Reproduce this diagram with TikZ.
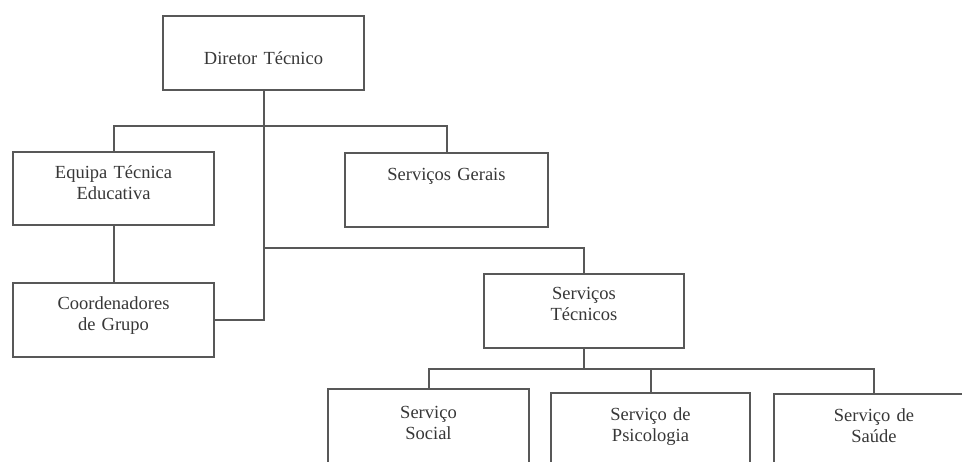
\documentclass[tikz,border=0pt]{standalone}
\usepackage{fontspec}
\setmainfont{Liberation Serif}
\usepackage{tikz}
\usetikzlibrary{positioning}
\definecolor{linha}{RGB}{88,88,88}
\definecolor{texto}{RGB}{55,55,55}

\begin{document}
\begin{tikzpicture}[
  x=1pt, y=-1pt,
  caixa/.style={
    rectangle, draw=linha, line width=2pt,
    text=texto, font=\fontsize{18.5}{21}\selectfont,
    align=center, inner sep=0pt, anchor=north
  },
  medida/.style args={#1/#2/#3}{
    text width=#1, text height=#2, text depth=#3
  },
  lig/.style={draw=linha, line width=2pt}
]

%% ── Moldura (962 x 461) ─────────────────────────────────────────────────
\useasboundingbox (0,0) rectangle (962,461);

%% ── Topo ────────────────────────────────────────────────────────────────
\node[caixa, medida={201pt/48pt/26pt}] (dir) at (263.5,15)
  {Diretor Técnico};

%% ── Segundo nível ───────────────────────────────────────────────────────
\node[caixa, medida={201pt/26pt/47pt}] (equipa) at (113.5,151)
  {Equipa Técnica\\Educativa};
\node[caixa, medida={203pt/27pt/47pt}] (gerais) at (446.5,152)
  {Serviços Gerais};
\node[caixa, medida={201pt/26pt/48pt}] (coord) at (113.5,282)
  {Coordenadores\\de Grupo};
\node[caixa, medida={200pt/25pt/49pt}] (tec) at (584,273)
  {Serviços\\Técnicos};

%% ── Serviços técnicos (cortados pela margem) ────────────────────────────
\node[caixa, medida={201pt/29pt/71pt}] (social) at (428.5,388)
  {Serviço\\Social};
\node[caixa, medida={199pt/27pt/71pt}] (psico) at (650.5,392)
  {Serviço de\\Psicologia};
\node[caixa, medida={200pt/27pt/71pt}] (saude) at (874,393)
  {Serviço de\\Saúde};

%% ── Pontos de junção ────────────────────────────────────────────────────
\coordinate (bus1) at (263.5,126);
\coordinate (bus2) at (263.5,248);
\coordinate (bus3) at (584,369);

%% ── Ligações ────────────────────────────────────────────────────────────
\draw[lig] (dir.south) |- (coord.east);
\draw[lig] (equipa.north) |- (bus1) -| (gerais.north);
\draw[lig] (equipa.south) -- (coord.north);
\draw[lig] (bus2) -| (tec.north);
\draw[lig] (tec.south) -- (bus3);
\draw[lig] (social.north) |- (bus3) -| (saude.north);
\draw[lig] (bus3) -| (psico.north);

\end{tikzpicture}
\end{document}
